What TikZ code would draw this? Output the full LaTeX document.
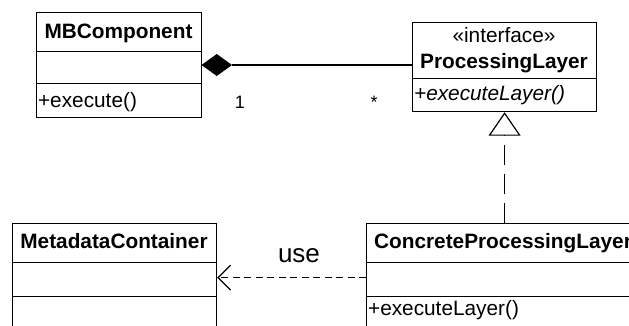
\documentclass[tikz,border=0pt]{standalone}
\usepackage{fontspec}
\setmainfont{Liberation Sans}
\usetikzlibrary{arrows.meta}
\begin{document}
\begin{tikzpicture}[x=1pt,y=-1pt,line width=1.2pt,
  comp/.style={draw,line width=1.2pt,inner sep=0pt,anchor=north west,rectangle},
  umltxt/.style={font=\fontsize{20.8}{24}\selectfont,inner sep=0pt},
  umlbold/.style={font=\fontsize{20.8}{24}\selectfont\bfseries,inner sep=0pt,anchor=base},
  multtxt/.style={font=\fontsize{18}{21}\selectfont,inner sep=0pt,anchor=base},
  realize/.style={dash pattern=on 20pt off 9pt},
  depend/.style={dash pattern=on 7pt off 4.5pt}]
\useasboundingbox (0,0) rectangle (629,325);
\clip (0,0) rectangle (629,325);
% MBComponent
\node[comp,minimum width=165pt,minimum height=39pt] (mbname) at (36,12) {};
\node[comp,minimum width=165pt,minimum height=32pt] (mbattr) at (36,51) {};
\node[comp,minimum width=165pt,minimum height=34pt] (mbops) at (36,83) {};
\node[umlbold] (mbt) at (118.5,38) {MBComponent};
\node[umltxt,anchor=base west] (mbo) at (37.5,107) {+execute()};
% ProcessingLayer
\node[comp,minimum width=184pt,minimum height=56pt] (plname) at (412,22) {};
\node[comp,minimum width=184pt,minimum height=33pt] (plops) at (412,78) {};
\node[umltxt,anchor=base] (plst) at (504,42) {«interface»};
\node[umlbold] (plt) at (504,68.5) {ProcessingLayer};
\node[umltxt,anchor=base west] (plo) at (413.5,100) {\itshape +executeLayer()};
% MetadataContainer
\node[comp,minimum width=204pt,minimum height=39pt] (mdname) at (12,223) {};
\node[comp,minimum width=204pt,minimum height=34pt] (mdattr) at (12,262) {};
\node[comp,minimum width=204pt,minimum height=34pt] (mdops) at (12,296) {};
\node[umlbold] (mdt) at (114,248.5) {MetadataContainer};
% ConcreteProcessingLayer
\node[comp,minimum width=274pt,minimum height=39pt] (ccname) at (366,223) {};
\node[comp,minimum width=274pt,minimum height=34pt] (ccattr) at (366,262) {};
\node[comp,minimum width=274pt,minimum height=34pt] (ccops) at (366,296) {};
\node[umlbold] (cct) at (503,248) {ConcreteProcessingLayer};
\node[umltxt,anchor=base west] (cco) at (367.5,315.5) {+executeLayer()};
% composition
\coordinate (dl) at (201.5,65);
\coordinate (dr) at (232,65);
\fill (dl) -- (216.75,54) -- (dr) -- (216.75,76) -- cycle;
\draw (dr) -- (plname.west |- dr);
\node[multtxt] (m1) at (240,108) {1};
\node[multtxt] (m2) at (374,108) {*};
% realization
\draw[realize,-{Triangle[open,length=23.5pt,width=32pt,fill=white]}] (ccname.north -| plops.south) -- (plops.south);
% dependency
\draw[depend,-{Straight Barb[length=12.5pt,width=25pt]}] ([yshift=2pt]ccattr.west) -- ([yshift=2pt]mdattr.east);
\node[font=\fontsize{26}{30}\selectfont,inner sep=0pt,anchor=base] (use) at (299,262) {use};
\end{tikzpicture}
\end{document}
